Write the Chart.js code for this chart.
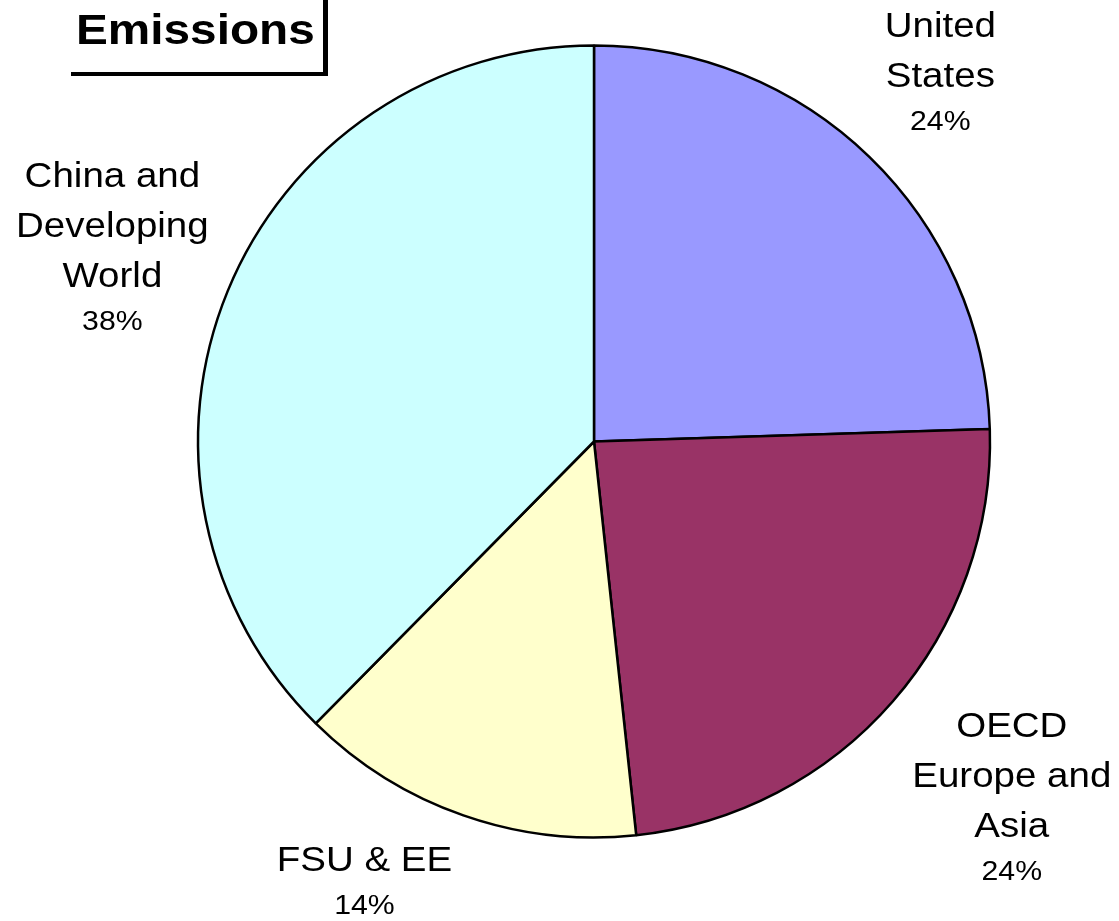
<!DOCTYPE html>
<html>
<head>
<meta charset="utf-8">
<title>Emissions</title>
<script src="https://cdn.jsdelivr.net/npm/chart.js@4"></script>
<style>
  html, body { margin: 0; padding: 0; background: #fff; }
  #wrap { width: 1119px; height: 921px; position: relative; }
</style>
</head>
<body>
<div id="wrap"><canvas id="my_chart"></canvas></div>
<script>
// Data
const regions = [
  ['United', 'States'],
  ['OECD', 'Europe and', 'Asia'],
  ['FSU & EE'],
  ['China and', 'Developing', 'World']
];
const shares = [24.5, 23.8, 14.1, 37.6];
const shareLabels = ['24%', '24%', '14%', '38%'];
const sliceColors = ['#9999FF', '#993366', '#FFFFCC', '#CCFFFF'];

const FONT = "'Liberation Sans', Arial, sans-serif";

// draw text slightly stretched sideways, like the original export
function wideText(ctx, text, x, y, sx) {
  ctx.save();
  ctx.translate(x, y);
  ctx.scale(sx, 1);
  ctx.fillText(text, 0, 0);
  ctx.restore();
}

// Outside labels, placed around each slice's middle angle
const sliceLabels = {
  id: 'sliceLabels',
  afterDatasetsDraw(chart, args, opts) {
    const ctx = chart.ctx;
    const meta = chart.getDatasetMeta(0);
    ctx.save();
    ctx.fillStyle = '#000';
    ctx.textAlign = 'center';
    ctx.textBaseline = 'middle';
    meta.data.forEach((arc, i) => {
      const mid = (arc.startAngle + arc.endAngle) / 2 + opts.nudge[i].da * Math.PI / 180;
      const d = arc.outerRadius * opts.nudge[i].k;
      const cx = arc.x + Math.cos(mid) * d;
      const cy = arc.y + Math.sin(mid) * d;
      const lines = regions[i];
      const span = (lines.length - 1) * 50 + 45;
      let y = cy - span / 2;
      ctx.font = '35px ' + FONT;
      lines.forEach(t => {
        wideText(ctx, t, cx, y, 1.1);
        y += 50;
      });
      y += 45 - 50;
      ctx.font = '28px ' + FONT;
      wideText(ctx, shareLabels[i], cx, y, 1.08);
    });
    ctx.restore();
  }
};

// Boxed title in the top-left corner
const boxTitle = {
  id: 'boxTitle',
  afterDraw(chart) {
    const ctx = chart.ctx;
    ctx.save();
    ctx.fillStyle = '#000';
    ctx.font = 'bold 43px ' + FONT;
    ctx.textAlign = 'left';
    ctx.textBaseline = 'alphabetic';
    wideText(ctx, 'Emissions', 76, 44, 1.11);
    ctx.fillRect(323, 0, 5, 76);
    ctx.fillRect(71, 72, 257, 4);
    ctx.restore();
  }
};

const ctx = document.getElementById('my_chart').getContext('2d');

const config = {
  type: 'pie',
  data: {
    labels: regions.map(r => r.join(' ')),
    datasets: [{
      data: shares,
      backgroundColor: sliceColors,
      borderColor: '#000',
      borderWidth: 2.5
    }]
  },
  options: {
    responsive: true,
    maintainAspectRatio: false,
    animation: false,
    radius: 396,
    layout: { padding: { left: 69, right: 0, top: 0, bottom: 38 } },
    plugins: {
      legend: { display: false },
      tooltip: { enabled: false },
      sliceLabels: {
        nudge: [
          { da: -0.75, k: 1.274 },
          { da: -0.42, k: 1.390 },
          { da: 8.15, k: 1.259 },
          { da: -0.62, k: 1.309 }
        ]
      }
    }
  },
  plugins: [sliceLabels, boxTitle]
};

const myChart = new Chart(ctx, config);
</script>
</body>
</html>
